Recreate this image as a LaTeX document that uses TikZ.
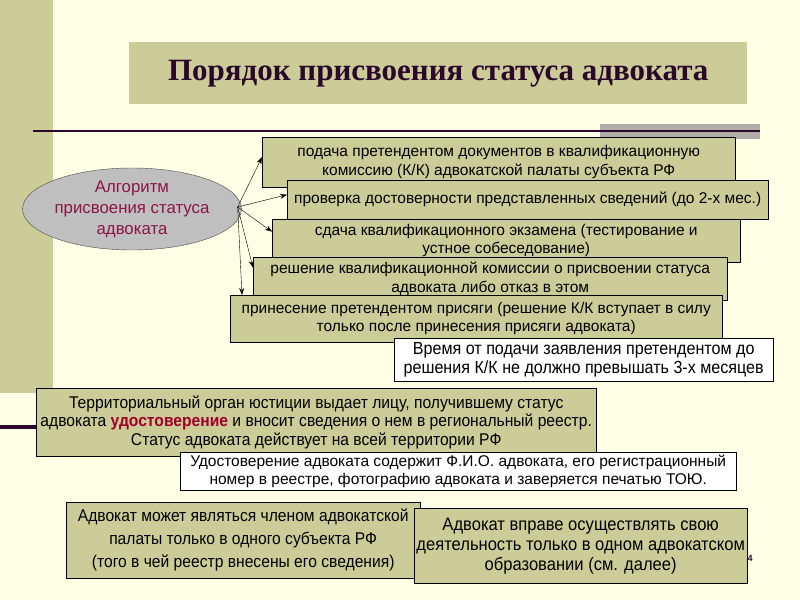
\documentclass[tikz,border=0pt]{standalone}
\usepackage{fontspec}
\setmainfont{Liberation Sans}
\newfontfamily\titlefont{Liberation Serif}
\newfontfamily\narrowfont[FakeStretch=0.92]{Liberation Sans}
\usetikzlibrary{shapes.geometric,arrows.meta}
\definecolor{slidecream}{RGB}{255,255,229}
\definecolor{slideolive}{RGB}{204,204,153}
\definecolor{slidegray}{RGB}{178,172,168}
\definecolor{slidedark}{RGB}{43,8,43}
\definecolor{algmaroon}{RGB}{139,22,66}
\definecolor{certred}{RGB}{160,0,40}

\tikzset{
  stepbox/.style={draw=black, fill=slideolive, anchor=north west, align=center, inner sep=0pt,
    font=\fontsize{15.5}{18.5}\selectfont},
  notebox/.style={stepbox, fill=white},
  narrowbox/.style={stepbox, font=\narrowfont\fontsize{17}{18.5}\selectfont},
  steparrow/.style={-{Stealth[length=7pt,width=5pt]}, thin},
}

\begin{document}
\begin{tikzpicture}[x=1pt, y=-1pt]
\useasboundingbox (0,0) rectangle (800,600);
\fill[slidecream] (0,0) rectangle (800,600);
% slide decoration
\fill[slideolive] (0,0) rectangle (53,393);
\draw[slidedark, line width=3.5pt] (0,427) -- (60,427);
\fill[slidegray] (600,124) rectangle (760,139);
\draw[slidedark, line width=2.5pt] (33,131) -- (760,131);

% title
\node[fill=slideolive, anchor=north west, minimum width=618, minimum height=62, inner sep=0pt,
  font=\titlefont\bfseries\fontsize{31}{33}\selectfont, text=slidedark] (title) at (129,42)
  {Порядок присвоения статуса адвоката};

% algorithm and its steps
\node[ellipse, draw=black!70, fill=black!25, minimum width=218, minimum height=82, inner sep=0pt,
  align=center, text=algmaroon, font=\fontsize{16.8}{21}\selectfont] (alg) at (132,209)
  {Алгоритм\\присвоения статуса\\адвоката};

\node[stepbox, minimum width=473, minimum height=50] (b1) at (262,137)
  {подача претендентом документов в квалификационную\\комиссию (К/К) адвокатской палаты субъекта РФ};
\node[stepbox, minimum width=481, minimum height=39] (b2) at (287,180)
  {проверка достоверности представленных сведений (до 2-х мес.)};
\node[stepbox, minimum width=468, minimum height=43] (b3) at (272,219)
  {сдача квалификационного экзамена (тестирование и\\устное собеседование)};
\node[stepbox, minimum width=474, minimum height=43] (b4) at (253,257)
  {решение квалификационной комиссии о присвоении статуса\\адвоката либо отказ в этом};
\node[stepbox, minimum width=492, minimum height=47] (b5) at (230,295)
  {принесение претендентом присяги (решение К/К вступает в силу\\только после принесения присяги адвоката)};
\node[narrowbox, notebox, minimum width=379, minimum height=43, font=\narrowfont\fontsize{17.5}{19}\selectfont] (b6) at (394,338)
  {Время от подачи заявления претендентом до\\решения К/К не должно превышать 3-х месяцев};

\draw[steparrow] ([xshift=-4pt,yshift=2pt]alg.east) -- ([yshift=5pt]b1.west);
\draw[steparrow] ([xshift=-4pt,yshift=2pt]alg.east) -- ([yshift=5pt]b2.west);
\draw[steparrow] ([xshift=-4pt,yshift=2pt]alg.east) -- ([yshift=9pt]b3.west);
\draw[steparrow] ([xshift=-4pt,yshift=2pt]alg.east) -- ([yshift=11pt]b4.west);
\draw[steparrow] ([xshift=-4pt,yshift=2pt]alg.east) -- ([xshift=12pt]b5.north west);

% certificate
\node[narrowbox, minimum width=560, minimum height=68] (cert) at (36,388)
  {Территориальный орган юстиции выдает лицу, получившему статус\\
   адвоката {\bfseries\color{certred}удостоверение} и вносит сведения о нем в региональный реестр.\\
   Статус адвоката действует на всей территории РФ};
\node[narrowbox, notebox, minimum width=556, minimum height=38] (certnote) at (180,452)
  {Удостоверение адвоката содержит Ф.И.О. адвоката, его регистрационный\\
   номер в реестре, фотографию адвоката и заверяется печатью ТОЮ.};

% membership
\node[narrowbox, minimum width=354, minimum height=76, font=\narrowfont\fontsize{17}{23}\selectfont] (member) at (66,502)
  {Адвокат может являться членом адвокатской\\палаты только в одного субъекта РФ\\(того в чей реестр внесены его сведения)};
\node[font=\bfseries\fontsize{9}{9}\selectfont, text=slidedark, inner sep=0pt] (pnum) at (750,558) {4};
\node[narrowbox, minimum width=333, minimum height=75, font=\narrowfont\fontsize{18}{20}\selectfont] (practice) at (414,508)
  {Адвокат вправе осуществлять свою\\деятельность только в одном адвокатском\\образовании (см. далее)};
\end{tikzpicture}
\end{document}
